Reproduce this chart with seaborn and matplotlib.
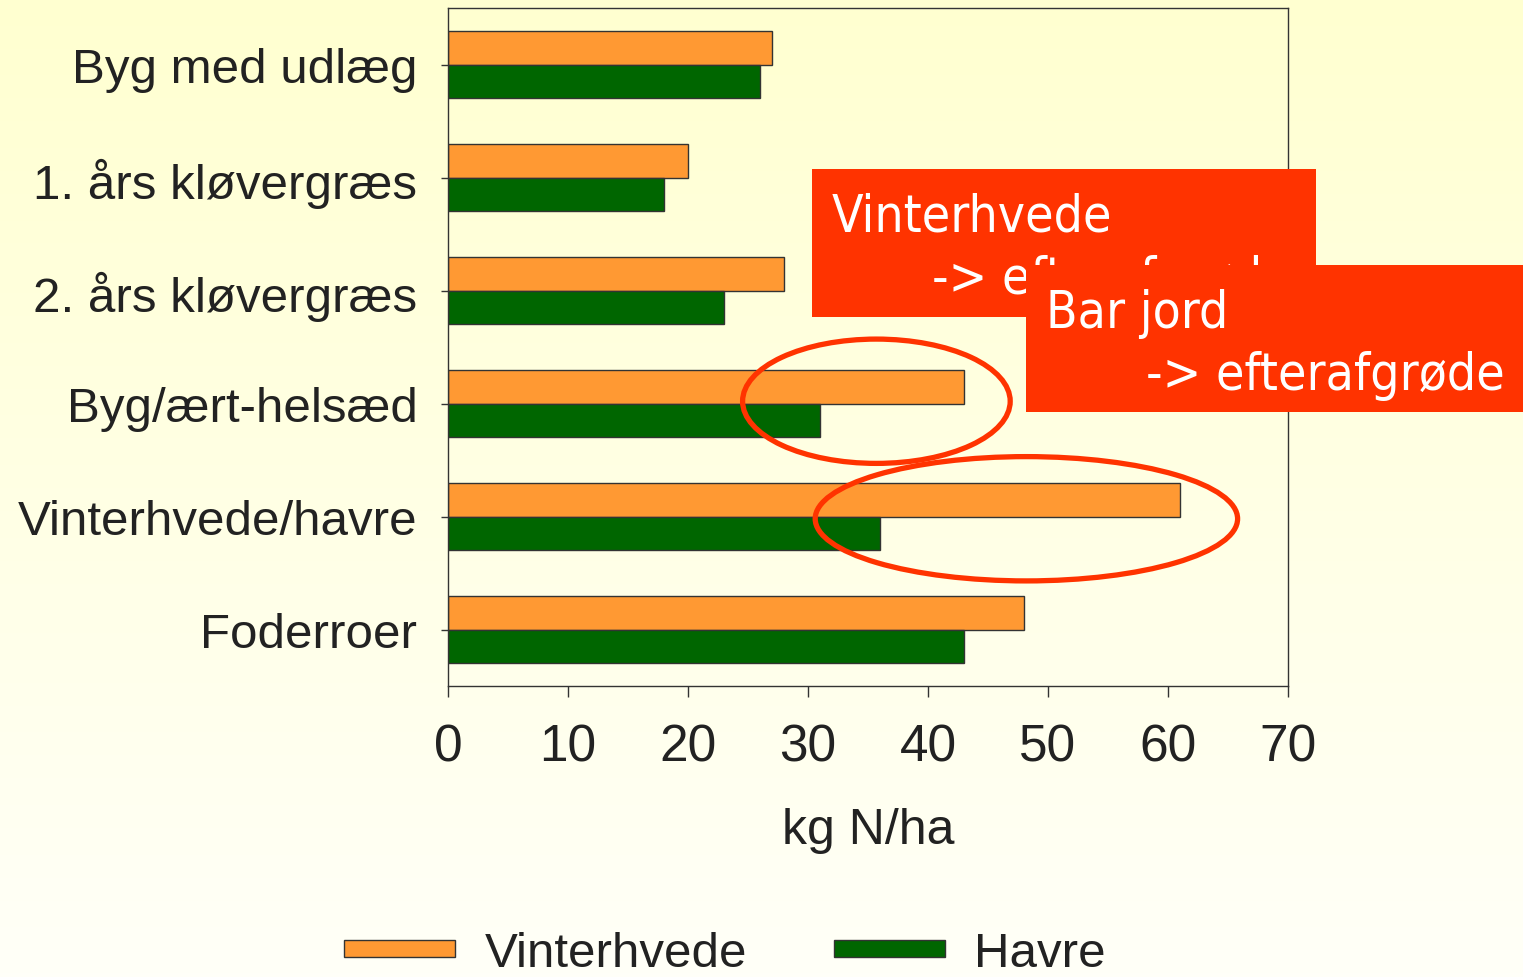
import matplotlib
matplotlib.use("Agg")
import matplotlib.pyplot as plt
import matplotlib.patches as mpatches
import numpy as np
import pandas as pd
import seaborn as sns

# Data
afgroeder = ["Byg med udlæg", "1. års kløvergræs", "2. års kløvergræs",
             "Byg/ært-helsæd", "Vinterhvede/havre", "Foderroer"]
vinterhvede = [27, 20, 28, 43, 61, 48]
havre = [26, 18, 23, 31, 36, 43]
serier = ["Vinterhvede", "Havre"]
x_ticks = [0, 10, 20, 30, 40, 50, 60, 70]

ORANGE = "#FF9933"
GREEN = "#006600"
RED = "#FF3300"
TXT = "#222222"

sns.set_style("white")
plt.rcParams["font.family"] = ["Liberation Sans", "DejaVu Sans"]
NARROW = ["Liberation Sans Narrow", "Liberation Sans"]

W, H = 1523, 978
fig = plt.figure(figsize=(W / 100, H / 100), dpi=100)


def fx(px):
    return px / W


def fy(py):
    return 1 - py / H


# Baggrund med gradient (lys gul -> næsten hvid)
bg = fig.add_axes([0, 0, 1, 1], zorder=-10)
top = np.array([255, 255, 208]) / 255
bot = np.array([255, 255, 248]) / 255
t = np.linspace(0, 1, 256)[:, None]
grad = top[None, :] * (1 - t) + bot[None, :] * t
bg.imshow(grad[:, None, :], aspect="auto", extent=[0, 1, 0, 1])
bg.set_axis_off()

ax = fig.add_axes([fx(448), fy(687), fx(1288) - fx(448), fy(9) - fy(687)])
ax.set_facecolor("none")

df = pd.DataFrame({
    "afgrøde": afgroeder * 2,
    "kg": vinterhvede + havre,
    "serie": [serier[0]] * len(afgroeder) + [serier[1]] * len(afgroeder),
})

sns.barplot(data=df, y="afgrøde", x="kg", hue="serie", orient="h",
            palette=[ORANGE, GREEN], saturation=1, width=0.6, edgecolor="#333333",
            linewidth=1, ax=ax, legend=False)

ax.set_xlim(0, 70)
ax.set_xticks(x_ticks)
ax.set_xticklabels([str(v) for v in x_ticks], family=NARROW, fontsize=37, color=TXT)
ax.set_yticks(range(len(afgroeder)))
ax.set_yticklabels(afgroeder, fontsize=35.5, color=TXT)
ax.tick_params(axis="x", direction="out", length=8, width=1, color="#333333", pad=18,
               bottom=True)
ax.tick_params(axis="y", direction="out", length=5, width=1, color="#333333", pad=17,
               left=True)
ax.set_xlabel("kg N/ha", family=NARROW, fontsize=36, color=TXT, labelpad=26)
ax.set_ylabel("")
for s in ax.spines.values():
    s.set_color("#333333")
    s.set_linewidth(1)
    s.set_visible(True)

# Ellipser rundt om søjlerne
ax.add_patch(mpatches.Ellipse((35.7, 2.98), 22.3, 1.1, fill=False, edgecolor=RED,
                              linewidth=3.8, clip_on=False, zorder=5))
ax.add_patch(mpatches.Ellipse((48.2, 4.02), 35.2, 1.1, fill=False, edgecolor=RED,
                              linewidth=3.8, clip_on=False, zorder=5))

# Tekstbokse
box_font = dict(family="DejaVu Sans", fontstretch="condensed", fontsize=37, color="white")
fig.patches.append(mpatches.Rectangle((fx(812), fy(318)), fx(1316) - fx(812), fy(170) - fy(318),
                                      transform=fig.transFigure, facecolor=RED,
                                      edgecolor="none", zorder=5))
fig.text(fx(832), fy(232), "Vinterhvede", va="baseline", ha="left", zorder=6, **box_font)
fig.text(fx(932), fy(294), "-> efterafgrøde", va="baseline", ha="left", zorder=6, **box_font)
fig.patches.append(mpatches.Rectangle((fx(1026), fy(413)), fx(1523) - fx(1026), fy(266) - fy(413),
                                      transform=fig.transFigure, facecolor=RED,
                                      edgecolor="none", zorder=7))
fig.text(fx(1046), fy(328), "Bar jord", va="baseline", ha="left", zorder=8, **box_font)
fig.text(fx(1146), fy(390), "-> efterafgrøde", va="baseline", ha="left", zorder=8, **box_font)

# Legende
handles = [mpatches.Patch(facecolor=ORANGE, edgecolor="#333333", linewidth=1, label=serier[0]),
           mpatches.Patch(facecolor=GREEN, edgecolor="#333333", linewidth=1, label=serier[1])]
fig.legend(handles=handles, loc="center", bbox_to_anchor=(fx(725), fy(955)), ncol=2,
           frameon=False, handlelength=2.25, handleheight=0.15, handletextpad=0.6,
           columnspacing=1.75, prop={"family": NARROW, "size": 35.5}, labelcolor=TXT)

plt.savefig("out.png", dpi=100)
plt.close()
